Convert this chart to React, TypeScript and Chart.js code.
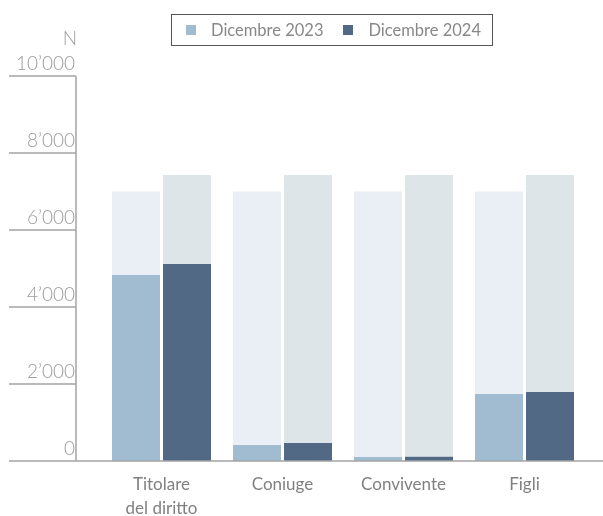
import React, { useEffect, useRef } from 'react';
import { Chart, registerables } from 'chart.js';

Chart.register(...registerables);

const categories: (string | string[])[] = [['Titolare', 'del diritto'], 'Coniuge', 'Convivente', 'Figli'];
const series2023 = [4830, 415, 105, 1740];
const series2024 = [5120, 470, 110, 1790];
const total2023 = [7000, 7000, 7000, 7000];
const total2024 = [7430, 7430, 7430, 7430];
const yTicks = [0, 2000, 4000, 6000, 8000, 10000];
const legendLabels = ['Dicembre 2023', 'Dicembre 2024'];
const unitLabel = 'N';

const COLOR_2023 = '#a1bcd1';
const COLOR_2024 = '#526985';
const BG_2023 = '#e9eff4';
const BG_2024 = '#dde5e9';
const FONT = 'Lato, "Open Sans", sans-serif';
const CAT_PCT = 102 / 121;
const BAR_PCT = 48 / 51;

const fmt = (v: number) => String(v).replace(/\B(?=(\d{3})+(?!\d))/g, '\u2019');

const axisPlugin = {
  id: 'axisLines',
  afterDraw(chart: any) {
    const { ctx, chartArea, scales } = chart;
    const y = scales.y;
    const axisX = chartArea.left - 25;
    ctx.save();
    ctx.strokeStyle = '#a3a3a3';
    ctx.lineWidth = 1.5;
    yTicks.forEach((t) => {
      const py = y.getPixelForValue(t);
      ctx.beginPath();
      ctx.moveTo(9, py);
      ctx.lineTo(t === 0 ? chart.width : axisX, py);
      ctx.stroke();
    });
    ctx.beginPath();
    ctx.moveTo(axisX, y.getPixelForValue(yTicks[yTicks.length - 1]));
    ctx.lineTo(axisX, y.getPixelForValue(0));
    ctx.stroke();
    ctx.fillStyle = '#9b9b9b';
    ctx.font = '300 19px ' + FONT;
    ctx.textAlign = 'right';
    ctx.textBaseline = 'alphabetic';
    ctx.fillText(unitLabel, axisX + 1, 45);
    ctx.restore();
  },
};

export default function App() {
  const ref = useRef<HTMLCanvasElement | null>(null);

  useEffect(() => {
    document.body.style.margin = '0';
    if (!ref.current) return;
    const common = { borderWidth: 0, categoryPercentage: CAT_PCT, barPercentage: BAR_PCT };
    const chart = new Chart(ref.current, {
      type: 'bar',
      data: {
        labels: categories as any,
        datasets: [
          { label: legendLabels[0], data: series2023, backgroundColor: COLOR_2023, stack: 'a', ...common },
          { label: 'bg2023', data: total2023.map((t, i) => t - series2023[i]), backgroundColor: BG_2023, stack: 'a', ...common },
          { label: legendLabels[1], data: series2024, backgroundColor: COLOR_2024, stack: 'b', ...common },
          { label: 'bg2024', data: total2024.map((t, i) => t - series2024[i]), backgroundColor: BG_2024, stack: 'b', ...common },
        ],
      },
      options: {
        responsive: false,
        animation: false,
        layout: { padding: { top: 76, right: 18, bottom: 0, left: 0 } },
        plugins: { legend: { display: false }, tooltip: { enabled: false } },
        scales: {
          x: {
            grid: { display: false, drawTicks: false },
            border: { display: false },
            afterFit: (s: any) => { s.height = 55; },
            ticks: {
              padding: 12,
              color: '#808080',
              font: { family: FONT, size: 17, lineHeight: 1.38 },
              maxRotation: 0,
            },
          },
          y: {
            stacked: true,
            min: 0,
            max: 10000,
            grid: { display: false, drawTicks: false },
            border: { display: false },
            afterFit: (s: any) => { s.width = 101; },
            afterBuildTicks: (s: any) => { s.ticks = yTicks.map((v) => ({ value: v })); },
            ticks: {
              padding: 26,
              labelOffset: -12,
              color: '#9b9b9b',
              font: { family: FONT, size: 19, weight: '300' as any },
              callback: (v: any) => fmt(Number(v)),
            },
          },
        },
      },
      plugins: [axisPlugin],
    });
    return () => chart.destroy();
  }, []);

  const sq = (c: string) => ({ display: 'inline-block', width: 10, height: 10, background: c, marginRight: 15 });

  return (
    <div style={{ position: 'relative', width: 603, height: 516 }}>
      <canvas ref={ref} width={603} height={516} style={{ display: 'block' }} />
      <div
        style={{
          position: 'absolute',
          left: 171,
          top: 14,
          width: 322,
          height: 32,
          boxSizing: 'border-box',
          border: '1px solid #555',
          display: 'flex',
          alignItems: 'center',
          paddingLeft: 14,
          fontFamily: FONT,
          fontSize: 16.5,
          color: '#888',
        }}
      >
        <span style={{ display: 'flex', alignItems: 'center' }}>
          <span style={sq(COLOR_2023)} />
          {legendLabels[0]}
        </span>
        <span style={{ display: 'flex', alignItems: 'center', marginLeft: 20 }}>
          <span style={sq(COLOR_2024)} />
          {legendLabels[1]}
        </span>
      </div>
    </div>
  );
}
